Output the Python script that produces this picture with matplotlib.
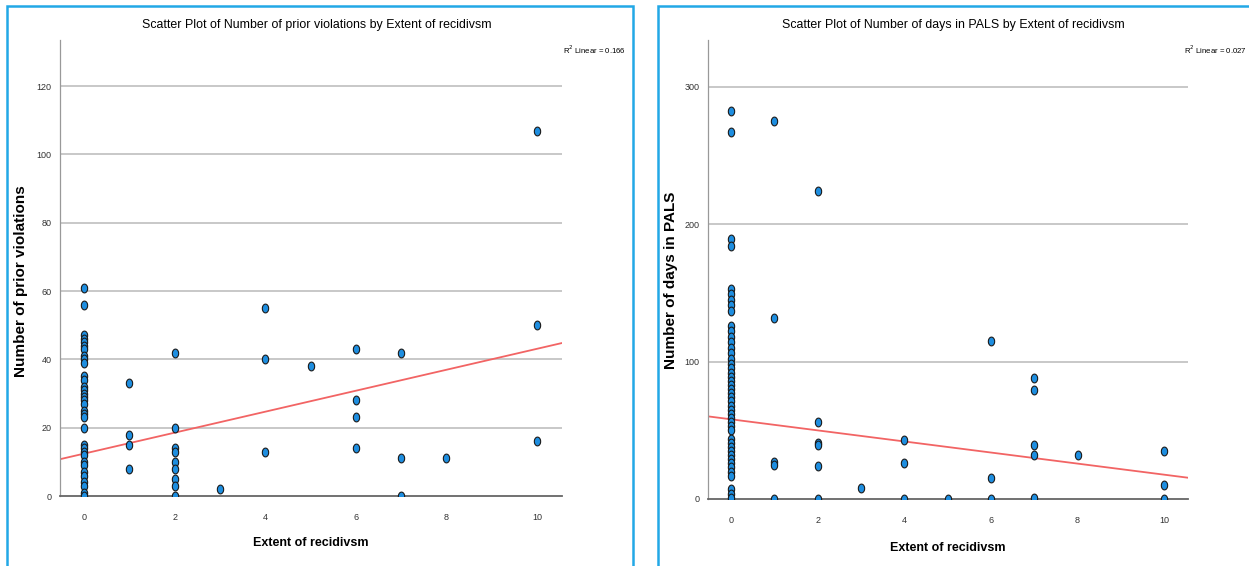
import matplotlib.pyplot as plt
import numpy as np
from matplotlib.patches import Rectangle

# Left panel: prior violations by extent of recidivism
viol_x = [0] * 34 + [1] * 4 + [2] * 9 + [3] + [4] * 3 + [5] + [6] * 4 + [7] * 3 + [8] + [10] * 3
viol_y = [61, 56, 47, 46, 45, 44, 43, 41, 40, 39, 35, 34, 32, 31, 30, 29, 28, 27, 25, 24,
          23, 20, 15, 14, 13, 12, 10, 9, 7, 6, 4, 3, 1, 0,
          33, 18, 15, 8,
          42, 20, 14, 13, 10, 8, 5, 3, 0,
          2,
          55, 40, 13,
          38,
          43, 28, 23, 14,
          42, 11, 0,
          11,
          107, 50, 16]
viol_fit = (12.4, 3.07)  # intercept, slope

# Right panel: days in PALS by extent of recidivism
days0 = [282, 267, 189, 184, 153, 149, 145, 141, 137, 126, 122, 118, 114, 110, 106, 102,
         98, 95, 92, 89, 86, 83, 80, 77, 74, 71, 68, 65, 62, 59, 56, 53, 50,
         44, 41, 38, 35, 32, 29, 26, 23, 20, 17, 7, 4, 1]
days_x = [0] * len(days0) + [1] * 5 + [2] * 6 + [3] + [4] * 3 + [5] + [6] * 3 + [7] * 5 + [8] + [10] * 3
days_y = days0 + [275, 132, 27, 25, 0,
                  224, 56, 41, 39, 24, 0,
                  8,
                  43, 26, 0,
                  0,
                  115, 15, 0,
                  88, 79, 39, 32, 1,
                  32,
                  35, 10, 0]
days_fit = (58.0, -4.03)

t = np.linspace(0, 2 * np.pi, 30)
ellipse = list(zip(0.72 * np.cos(t), np.sin(t)))

plt.rcParams['font.family'] = ['Liberation Sans', 'DejaVu Sans']

fig = plt.figure(figsize=(12.49, 5.66), dpi=100)

# panel frames
fig.patches.append(Rectangle((7 / 1249, -0.05), 626 / 1249, 1.05 - 6 / 566, transform=fig.transFigure,
                             fill=False, edgecolor='#22a8e6', linewidth=1.8))
fig.patches.append(Rectangle((658 / 1249, -0.05), 620 / 1249, 1.05 - 6 / 566, transform=fig.transFigure,
                             fill=False, edgecolor='#22a8e6', linewidth=1.8))


def panel(rect, xs, ys, fit, ymax, yticks, title, ylabel, r2, title_x, r2_x, ylab_xy, xlab_y):
    ax = fig.add_axes(rect)
    ax.set_xlim(-0.53, 10.55)
    ax.set_ylim(0, ymax)
    for v in yticks[1:]:
        ax.axhline(v, color='#c8c8c8', linewidth=1.4, zorder=1)
    ax.scatter(xs, ys, s=40, marker=ellipse, facecolor='#1e8ee0', edgecolor='#1a1a1a',
               linewidth=0.8, zorder=3)
    xx = np.array([-0.6, 10.6])
    ax.plot(xx, fit[0] + fit[1] * xx, color='#f26464', linewidth=1.3, zorder=2)
    ax.set_xticks([0, 2, 4, 6, 8, 10])
    ax.set_yticks(yticks)
    ax.tick_params(length=0, labelsize=6.5, colors='#333333')
    ax.tick_params(axis='x', pad=12)
    ax.tick_params(axis='y', pad=6)
    for s in ['top', 'right']:
        ax.spines[s].set_visible(False)
    ax.spines['left'].set_color('#999999')
    ax.spines['left'].set_linewidth(0.9)
    ax.spines['bottom'].set_color('#666666')
    ax.spines['bottom'].set_linewidth(1.3)
    ax.set_xlabel('Extent of recidivsm', fontsize=9, fontweight='bold')
    ax.xaxis.set_label_coords(0.5, xlab_y)
    ax.set_ylabel(ylabel, fontsize=11, fontweight='bold')
    ax.yaxis.set_label_coords(*ylab_xy)
    fig.text(title_x, 1 - 25 / 566, title, ha='center', va='center', fontsize=8.9)
    fig.text(r2_x, 1 - 50 / 566, r'R$^2$ Linear = ' + r2, ha='right', va='center', fontsize=5.6)
    return ax


panel([60 / 1249, 1 - 496 / 566, 502 / 1249, 456 / 566], viol_x, viol_y, viol_fit, 133.5,
      [0, 20, 40, 60, 80, 100, 120], 'Scatter Plot of Number of prior violations by Extent of recidivsm',
      'Number of prior violations', '0.166', 317 / 1249, 626 / 1249, (-0.064, 0.471), -0.09)
panel([708 / 1249, 1 - 499 / 566, 480 / 1249, 459 / 566], days_x, days_y, days_fit, 334,
      [0, 100, 200, 300], 'Scatter Plot of Number of days in PALS by Extent of recidivsm',
      'Number of days in PALS', '0.027', 953 / 1249, 1247 / 1249, (-0.0625, 0.477), -0.094)

fig.savefig('out.png', dpi=100)
